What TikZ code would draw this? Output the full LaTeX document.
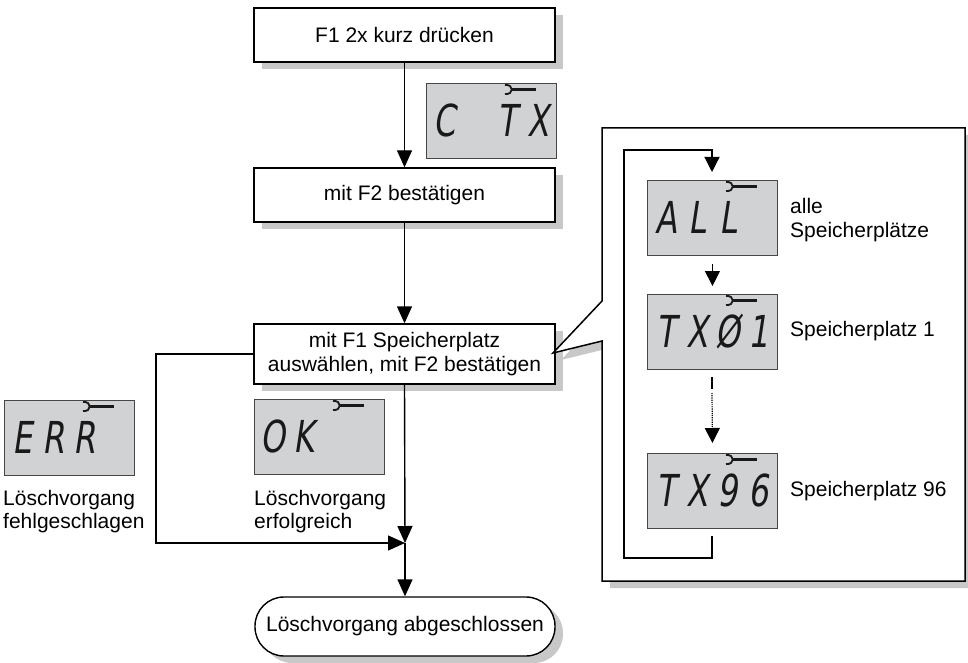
\documentclass[tikz,border=0pt]{standalone}
\usepackage{fontspec}
\setmainfont{Liberation Sans}
\newfontfamily\lcdfont{DejaVu Sans}[FakeSlant=0.15,FakeStretch=0.72]
\usetikzlibrary{arrows.meta,shadows}
\definecolor{lcdgray}{RGB}{209,210,212}
\definecolor{shadowgray}{RGB}{200,200,200}
\definecolor{lcdborder}{RGB}{70,70,70}
\definecolor{lcdink}{RGB}{25,25,25}
\newcommand\lcdtext[4]{\makebox[31pt][c]{#1}\makebox[31pt][c]{#2}\makebox[31pt][c]{#3}\makebox[31pt][c]{#4}}
\newcommand\wrenchicon[1]{%
  \draw[lcdink,line width=2.8pt] ([shift={(85,6.5)}]#1.north west) -- ([shift={(110,6.5)}]#1.north west);
  \draw[lcdink,line width=1.8pt] ([shift={(79,2)}]#1.north west) .. controls ([shift={(88,1)}]#1.north west) and ([shift={(88,12)}]#1.north west) .. ([shift={(79,11)}]#1.north west);
}
\tikzset{
  txt/.style={font=\fontsize{21}{23.5}\selectfont},
  flowbox/.style={txt,draw=black,line width=1.4pt,fill=white,minimum width=301pt,minimum height=54pt,
    align=center,inner sep=0pt,general shadow={fill=shadowgray,shadow xshift=8pt,shadow yshift=-7pt}},
  lcd/.style={draw=lcdborder,fill=lcdgray,line width=0.9pt,minimum width=130pt,minimum height=75pt,
    inner sep=0pt,anchor=north west,text=lcdink,font=\lcdfont\fontsize{44}{44}\selectfont},
  arr/.style={line width=1.4pt,-{Triangle[length=17pt,width=15pt]}},
  thinarr/.style={line width=1.2pt,-{Triangle[length=15pt,width=15pt]}},
  label/.style={txt,align=left,inner sep=0pt,anchor=west},
}
\begin{document}
\begin{tikzpicture}[x=1pt,y=-1pt]
\useasboundingbox (0,0) rectangle (968,663);

% main flow boxes
\node[flowbox] (b1) at (404.5,35) {F1 2x kurz drücken};
\node[flowbox] (b2) at (404.5,195) {mit F2 bestätigen};
\node[flowbox,minimum height=60pt] (b3) at (404.5,354) {mit F1 Speicherplatz\\auswählen, mit F2 bestätigen};
\node[flowbox,minimum width=300pt,minimum height=59pt,rounded corners=29pt] (term) at (405,626.5) {Löschvorgang abgeschlossen};

% LCD next to first arrow
\node[lcd] (lctx) at (426,83) {\lcdtext{C}{}{T}{X}};
\wrenchicon{lctx}

% main connectors
\coordinate (J) at (405,543);
\coordinate (Lc) at (156,543);
\draw[arr] (b1.south) -- (b2.north);
\draw[arr] (b2.south) -- (b3.north);
\draw[arr] (b3.south) -- (J);
\draw[arr] (b3.west) -| (Lc) -- (J);
\draw[arr] (J) -- (term.north);

% result LCDs and labels
\node[lcd] (lerr) at (4,400) {\lcdtext{E}{R}{R}{}};
\wrenchicon{lerr}
\node[lcd] (lok) at (254,399) {\lcdtext{O}{K}{}{}};
\wrenchicon{lok}
\node[label] (tfail) at (3,511.5) {Löschvorgang\\fehlgeschlagen};
\node[label] (tok) at (254,511.5) {Löschvorgang\\erfolgreich};

% callout
\coordinate (c1) at (602,128);
\coordinate (c2) at (965,128);
\coordinate (c3) at (965,581);
\coordinate (c4) at (602,581);
\coordinate (c5) at (602,341);
\coordinate (ctip) at (553,353);
\coordinate (c6) at (602,301);
\draw[line width=1.5pt,fill=white,general shadow={fill=shadowgray,shadow xshift=8pt,shadow yshift=-7pt}]
  (c1) -- (c2) -- (c3) -- (c4) -- (c5) -- (ctip) -- (c6) -- cycle;

% LCDs in callout
\node[lcd] (lall) at (647,180) {\lcdtext{A}{L}{L}{}};
\wrenchicon{lall}
\node[lcd] (l01) at (647,294) {\lcdtext{T}{X}{Ø}{1}};
\wrenchicon{l01}
\node[lcd] (l96) at (647,453) {\lcdtext{T}{X}{9}{6}};
\wrenchicon{l96}

\node[label] (tall) at (790,220) {alle\\Speicherplätze};
\node[label] (t01) at (790,331) {Speicherplatz 1};
\node[label] (t96) at (790,491) {Speicherplatz 96};

% loop and inner arrows
\coordinate (lp0) at (712,536);
\coordinate (lp1) at (712,558);
\coordinate (lp2) at (624,558);
\coordinate (lp3) at (624,150);
\coordinate (lp4) at (712,150);
\coordinate (lp5) at (712,172);
\draw[thinarr] (lp0) -- (lp1) -- (lp2) -- (lp3) -- (lp4) -- (lp5);
\draw[thinarr] ([yshift=-8pt]lall.south) -- ([yshift=8pt]l01.north);
\coordinate (d0) at (712,377);
\coordinate (d1) at (712,389);
\coordinate (d2) at (712,393);
\draw[line width=1.2pt] (d0) -- (d1);
\draw[thinarr,densely dotted] (d2) -- ([yshift=10pt]l96.north);
\end{tikzpicture}
\end{document}
